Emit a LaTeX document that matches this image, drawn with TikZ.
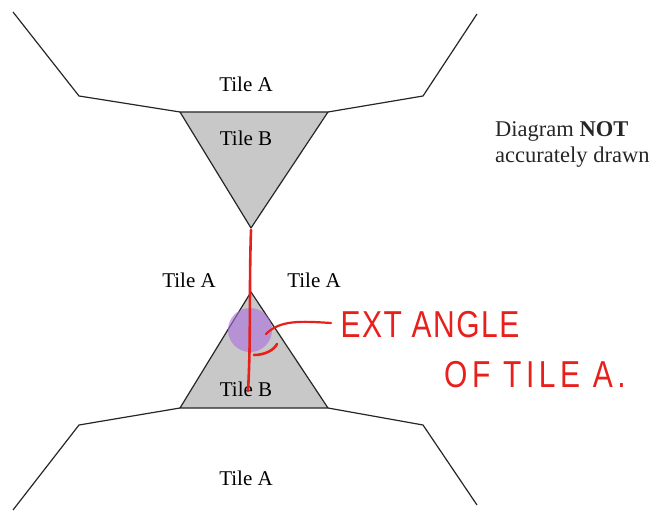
\documentclass[tikz,border=0pt]{standalone}
\usepackage{fontspec}
\setmainfont{Liberation Serif}
\newfontfamily\handA{Liberation Sans}[LetterSpace=5]
\newfontfamily\handB{Liberation Sans}[LetterSpace=15]
\definecolor{tilegray}{RGB}{200,200,200}
\definecolor{pen}{RGB}{232,32,28}
\definecolor{blob}{RGB}{170,110,220}
\begin{document}
\begin{tikzpicture}[x=1pt,y=-1pt,
  outline/.style={line width=1.2pt,black!85},
  tri/.style={outline,fill=tilegray,line join=round},
  lbl/.style={font=\fontsize{21}{23}\selectfont,inner sep=0pt},
  notetext/.style={font=\fontsize{22.5}{24}\selectfont,inner sep=0pt,anchor=base west,text=black!85},
  hand/.style={text=pen,inner sep=0pt,yscale=1.25},
  penline/.style={draw=pen,line width=2.6pt,line cap=round}]
\useasboundingbox (0,0) rectangle (662,513);
% top tile A
\coordinate (t1) at (13,12);
\coordinate (t2) at (79,96);
\coordinate (t3) at (180,112);
\coordinate (t4) at (328,112);
\coordinate (t5) at (423,96);
\coordinate (t6) at (477,14);
\coordinate (tb) at (251,228);
\draw[tri] (t3) -- (t4) -- (tb) -- cycle;
\draw[outline] (t1) -- (t2) -- (t3) (t4) -- (t5) -- (t6);
% bottom
\coordinate (b1) at (13,510);
\coordinate (b2) at (79,425);
\coordinate (b3) at (180,408);
\coordinate (b4) at (328,408);
\coordinate (b5) at (423,425);
\coordinate (b6) at (477,505);
\coordinate (ba) at (251,292);
\draw[tri] (b3) -- (b4) -- (ba) -- cycle;
\draw[outline] (b1) -- (b2) -- (b3) (b4) -- (b5) -- (b6);
% labels
\node[lbl] (la1) at (246,84) {Tile A};
\node[lbl] (lb1) at (246,138) {Tile B};
\node[lbl] (la2) at (189,280) {Tile A};
\node[lbl] (la3) at (314,280) {Tile A};
\node[lbl] (lb2) at (246,389) {Tile B};
\node[lbl] (la4) at (246,478) {Tile A};
\node[notetext] (note1) at (495,137) {Diagram \textbf{NOT}};
\node[notetext] (note2) at (495,163) {accurately drawn};
% annotation
\fill[blob,opacity=0.6] (250,330) circle (22);
\coordinate (r1) at (251,230);
\coordinate (r2) at (248,391);
\draw[penline] (r1) .. controls (249,290) and (251,340) .. (r2);
\coordinate (c1) at (266,334);
\coordinate (c2) at (331,323);
\draw[penline,line width=2.2pt] (c1) .. controls (280,320) and (300,321) .. (c2);
\coordinate (a1) at (254,355);
\coordinate (a2) at (277,344);
\draw[penline] (a1) .. controls (265,355) and (274,350) .. (a2);
\node[hand,font=\handA\fontsize{30}{32}\selectfont] (h1) at (430,325) {EXT ANGLE};
\node[hand,font=\handB\fontsize{30}{32}\selectfont] (h2) at (535,375) {OF TILE A.};
\end{tikzpicture}
\end{document}
